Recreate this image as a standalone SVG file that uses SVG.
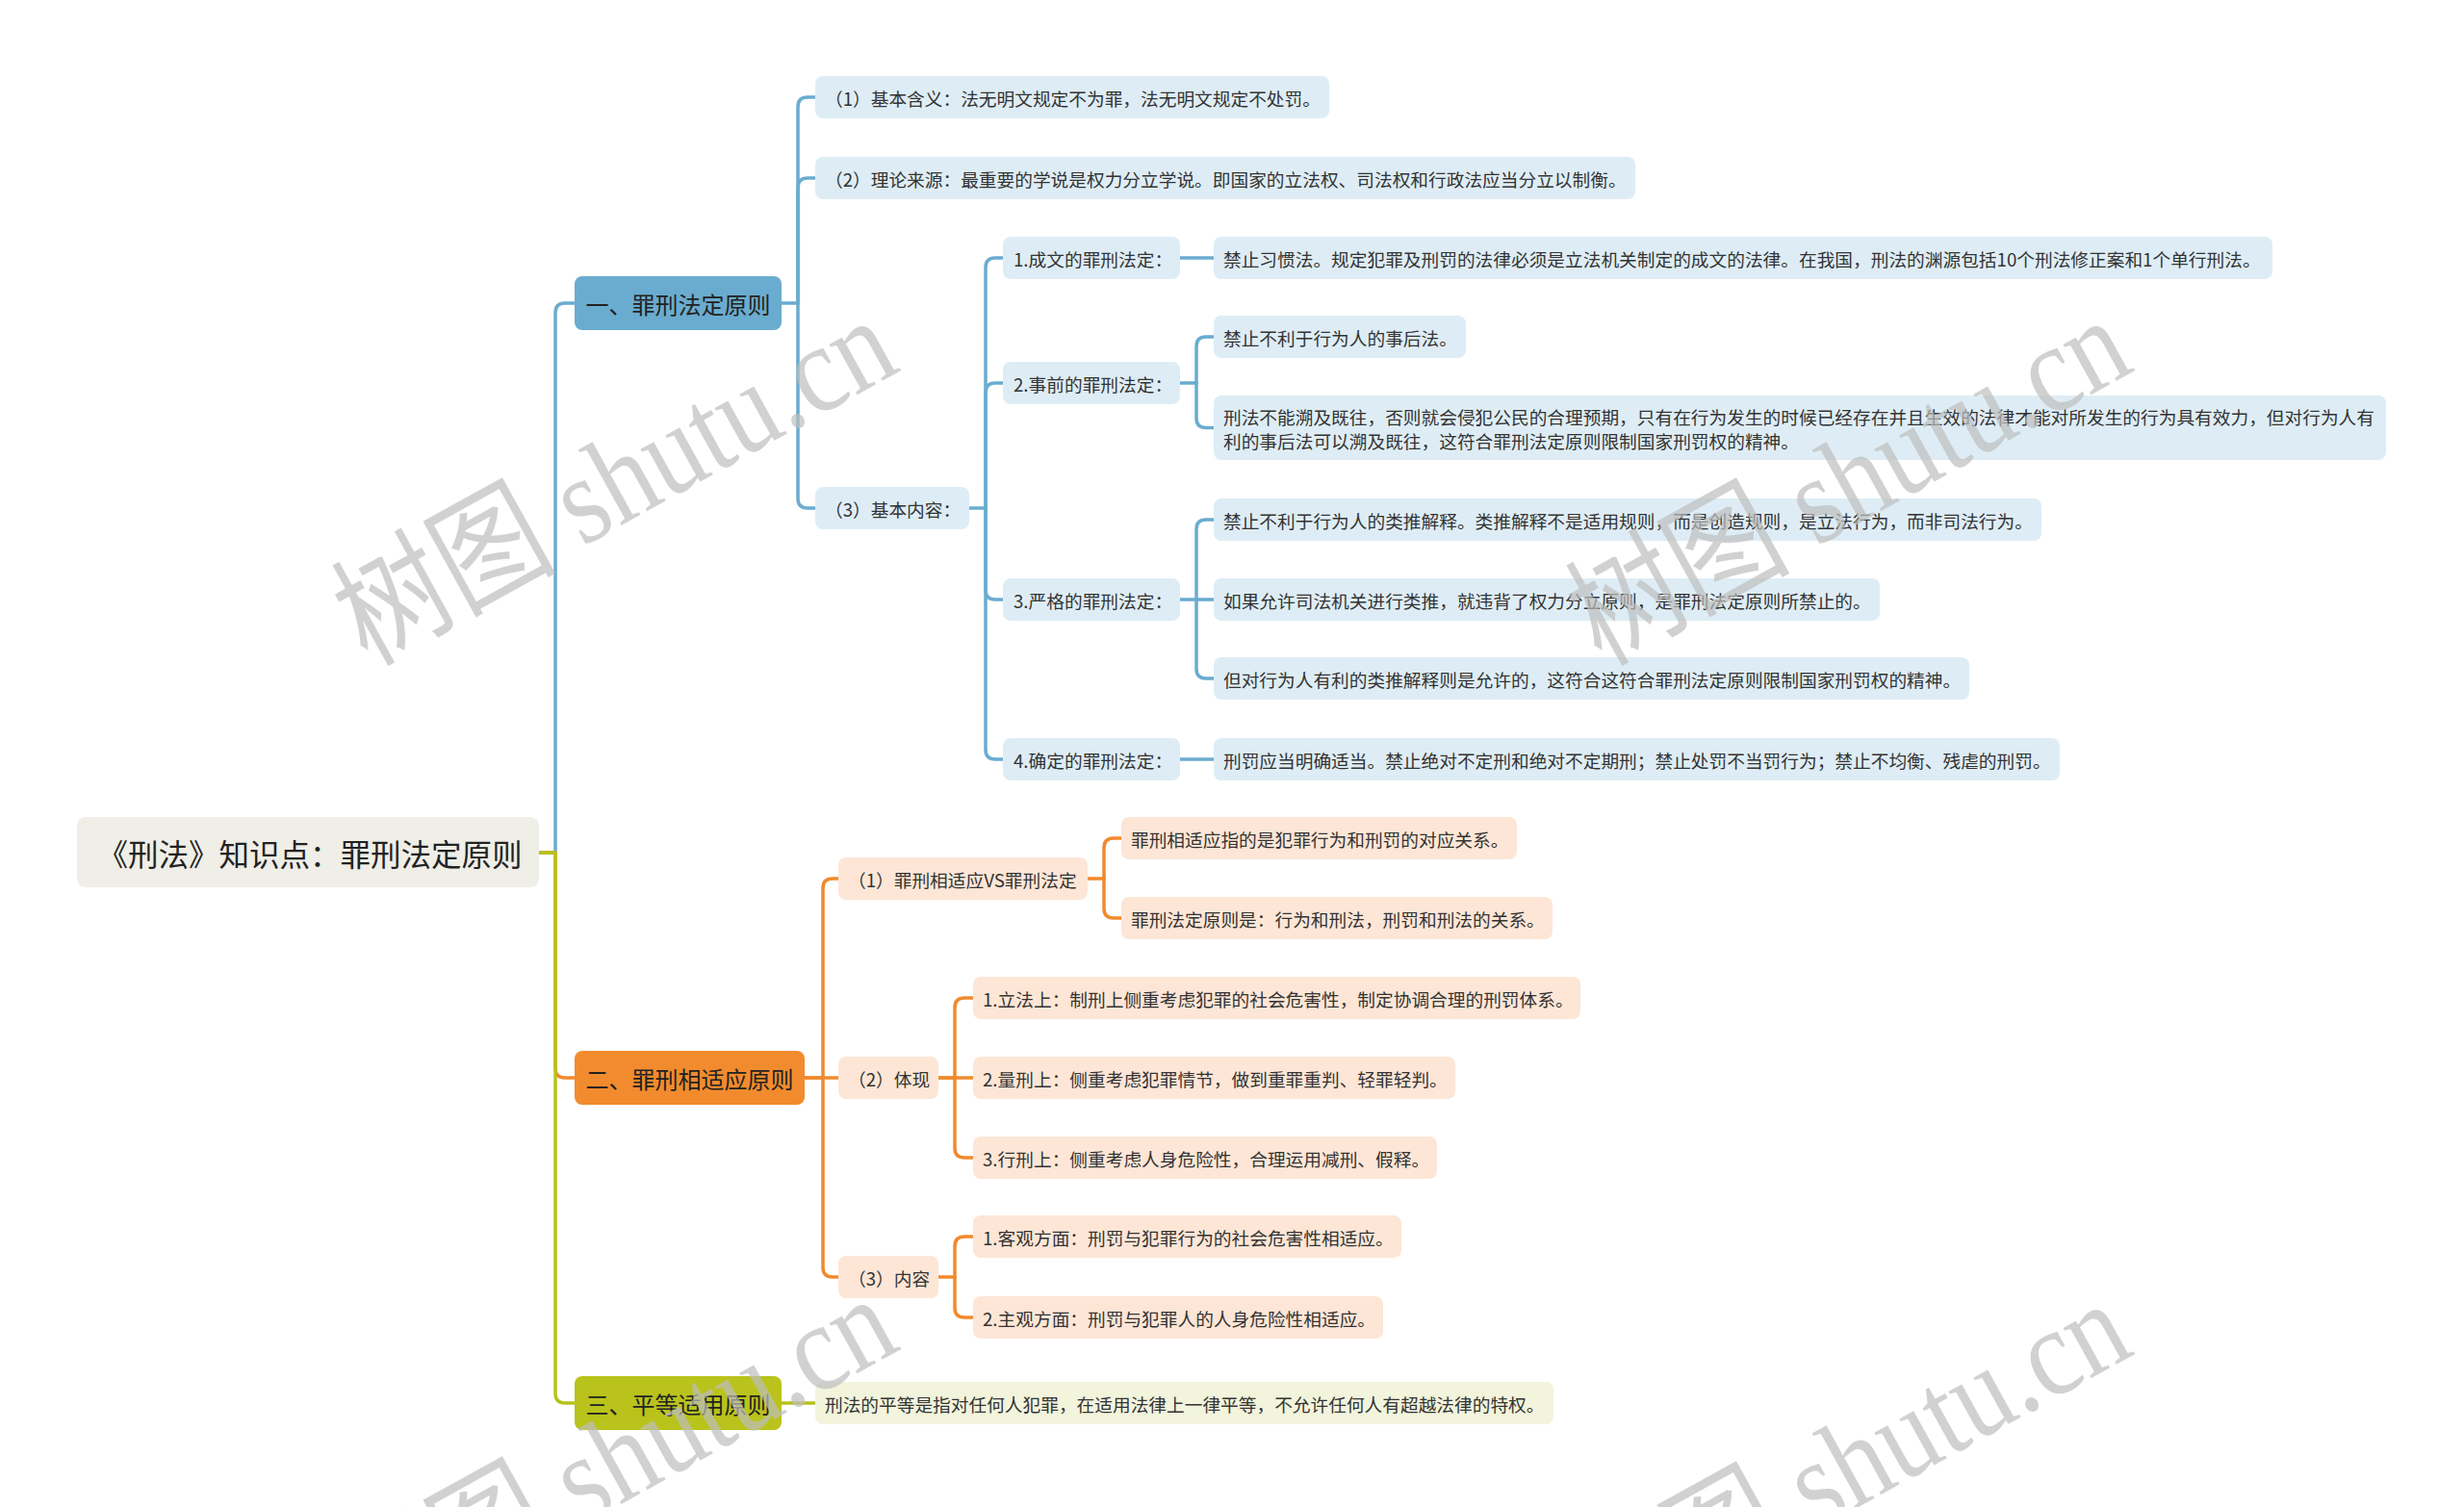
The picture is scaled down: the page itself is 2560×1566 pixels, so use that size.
<svg xmlns="http://www.w3.org/2000/svg" width="2560" height="1566" viewBox="0 0 2560 1566">
<style>
text{font-family:"Noto Sans CJK SC","Noto Sans CJK TC",sans-serif;dominant-baseline:central;fill:#333}
.s{font-size:18.7px}
.m{font-size:24px;fill:#222;text-anchor:middle}
.r{font-size:31.5px;fill:#222;text-anchor:middle}
.c{fill:none;stroke-width:3.5;stroke-linecap:round;stroke-linejoin:round}
.cb{stroke:#6aaccf}.co{stroke:#f08a2e}.cg{stroke:#b7c21c}
.nb{fill:#deedf5}.no{fill:#fde6d6}.ng{fill:#f2f4dc}
.wm{font-family:"Liberation Serif","Noto Sans CJK SC",serif;font-size:130px;fill:#bdbdbd;fill-opacity:0.7;text-anchor:middle;dominant-baseline:alphabetic}
</style>
<rect width="2560" height="1566" fill="#ffffff"/>

<g id="connectors">
  <!-- blue branch -->
  <path class="c cb" d="M560,886 H577 V325 Q577,315 587,315 H597"/>
  <path class="c cb" d="M812,315 H829 V111 Q829,101 839,101 H847"/>
  <path class="c cb" d="M829,315 V195 Q829,185 839,185 H847"/>
  <path class="c cb" d="M829,315 V518 Q829,528 839,528 H847"/>
  <path class="c cb" d="M1007,528 H1024 V278 Q1024,268 1034,268 H1042"/>
  <path class="c cb" d="M1024,528 V408 Q1024,398 1034,398 H1042"/>
  <path class="c cb" d="M1024,528 V613 Q1024,623 1034,623 H1042"/>
  <path class="c cb" d="M1024,528 V779 Q1024,789 1034,789 H1042"/>
  <path class="c cb" d="M1226,268 H1261"/>
  <path class="c cb" d="M1226,398 H1243 V360 Q1243,350 1253,350 H1261"/>
  <path class="c cb" d="M1243,398 V434.5 Q1243,444.5 1253,444.5 H1261"/>
  <path class="c cb" d="M1226,623 H1261"/>
  <path class="c cb" d="M1243,623 V550 Q1243,540 1253,540 H1261"/>
  <path class="c cb" d="M1243,623 V695 Q1243,705 1253,705 H1261"/>
  <path class="c cb" d="M1226,789 H1261"/>
  <!-- orange branch -->
  <path class="c co" d="M560,886 H577 V1110 Q577,1120 587,1120 H597"/>
  <path class="c co" d="M836,1120 H855 V923 Q855,913 865,913 H871"/>
  <path class="c co" d="M836,1120 H871"/>
  <path class="c co" d="M855,1120 V1317 Q855,1327 865,1327 H871"/>
  <path class="c co" d="M1130,913 H1147 V881 Q1147,871 1157,871 H1165"/>
  <path class="c co" d="M1147,913 V944 Q1147,954 1157,954 H1165"/>
  <path class="c co" d="M975,1120 H992 V1047 Q992,1037 1002,1037 H1011"/>
  <path class="c co" d="M975,1120 H1011"/>
  <path class="c co" d="M992,1120 V1193 Q992,1203 1002,1203 H1011"/>
  <path class="c co" d="M975,1327 H992 V1295 Q992,1285 1002,1285 H1011"/>
  <path class="c co" d="M992,1327 V1359 Q992,1369 1002,1369 H1011"/>
  <!-- green branch -->
  <path class="c cg" d="M560,886 H577 V1448 Q577,1458 587,1458 H597"/>
  <path class="c cg" d="M812,1458 H847"/>
</g>

<g id="root">
  <rect x="80" y="849" width="480" height="73" rx="9" fill="#efeee7"/>
  <text class="r" x="322" y="885.5">《刑法》知识点：罪刑法定原则</text>
</g>

<g id="n1">
  <rect x="597" y="287" width="215" height="56" rx="8" fill="#6aaccf"/>
  <text class="m" x="704.5" y="315">一、罪刑法定原则</text>
</g>
<g id="n1-1">
  <rect class="nb" x="847" y="79" width="534" height="44" rx="8"/>
  <text class="s" x="857" y="101">（1）基本含义：法无明文规定不为罪，法无明文规定不处罚。</text>
</g>
<g id="n1-2">
  <rect class="nb" x="847" y="163" width="852" height="44" rx="8"/>
  <text class="s" x="857" y="185">（2）理论来源：最重要的学说是权力分立学说。即国家的立法权、司法权和行政法应当分立以制衡。</text>
</g>
<g id="n1-3">
  <rect class="nb" x="847" y="506" width="160" height="44" rx="8"/>
  <text class="s" x="857" y="528">（3）基本内容：</text>
</g>
<g id="n1-3-1">
  <rect class="nb" x="1042" y="246" width="184" height="44" rx="8"/>
  <text class="s" x="1053" y="268">1.成文的罪刑法定：</text>
</g>
<g id="n1-3-1-1">
  <rect class="nb" x="1261" y="246" width="1100" height="44" rx="8"/>
  <text class="s" x="1271" y="268">禁止习惯法。规定犯罪及刑罚的法律必须是立法机关制定的成文的法律。在我国，刑法的渊源包括10个刑法修正案和1个单行刑法。</text>
</g>
<g id="n1-3-2">
  <rect class="nb" x="1042" y="376" width="184" height="44" rx="8"/>
  <text class="s" x="1053" y="398">2.事前的罪刑法定：</text>
</g>
<g id="n1-3-2-1">
  <rect class="nb" x="1261" y="328" width="262" height="44" rx="8"/>
  <text class="s" x="1271" y="350">禁止不利于行为人的事后法。</text>
</g>
<g id="n1-3-2-2">
  <rect class="nb" x="1261" y="411" width="1218" height="67" rx="8"/>
  <text class="s" x="1271" y="432">刑法不能溯及既往，否则就会侵犯公民的合理预期，只有在行为发生的时候已经存在并且生效的法律才能对所发生的行为具有效力，但对行为人有</text>
  <text class="s" x="1271" y="457">利的事后法可以溯及既往，这符合罪刑法定原则限制国家刑罚权的精神。</text>
</g>
<g id="n1-3-3">
  <rect class="nb" x="1042" y="601" width="184" height="44" rx="8"/>
  <text class="s" x="1053" y="623">3.严格的罪刑法定：</text>
</g>
<g id="n1-3-3-1">
  <rect class="nb" x="1261" y="518" width="860" height="44" rx="8"/>
  <text class="s" x="1271" y="540">禁止不利于行为人的类推解释。类推解释不是适用规则，而是创造规则，是立法行为，而非司法行为。</text>
</g>
<g id="n1-3-3-2">
  <rect class="nb" x="1261" y="601" width="692" height="44" rx="8"/>
  <text class="s" x="1271" y="623">如果允许司法机关进行类推，就违背了权力分立原则，是罪刑法定原则所禁止的。</text>
</g>
<g id="n1-3-3-3">
  <rect class="nb" x="1261" y="683" width="785" height="44" rx="8"/>
  <text class="s" x="1271" y="705">但对行为人有利的类推解释则是允许的，这符合这符合罪刑法定原则限制国家刑罚权的精神。</text>
</g>
<g id="n1-3-4">
  <rect class="nb" x="1042" y="767" width="184" height="44" rx="8"/>
  <text class="s" x="1053" y="789">4.确定的罪刑法定：</text>
</g>
<g id="n1-3-4-1">
  <rect class="nb" x="1261" y="767" width="879" height="44" rx="8"/>
  <text class="s" x="1271" y="789">刑罚应当明确适当。禁止绝对不定刑和绝对不定期刑；禁止处罚不当罚行为；禁止不均衡、残虐的刑罚。</text>
</g>

<g id="n2">
  <rect x="597" y="1092" width="239" height="56" rx="8" fill="#f28b2d"/>
  <text class="m" x="716.5" y="1120">二、罪刑相适应原则</text>
</g>
<g id="n2-1">
  <rect class="no" x="871" y="891" width="259" height="44" rx="8"/>
  <text class="s" x="881" y="913">（1）罪刑相适应VS罪刑法定</text>
</g>
<g id="n2-1-1">
  <rect class="no" x="1165" y="849" width="411" height="44" rx="8"/>
  <text class="s" x="1175" y="871">罪刑相适应指的是犯罪行为和刑罚的对应关系。</text>
</g>
<g id="n2-1-2">
  <rect class="no" x="1165" y="932" width="448" height="44" rx="8"/>
  <text class="s" x="1175" y="954">罪刑法定原则是：行为和刑法，刑罚和刑法的关系。</text>
</g>
<g id="n2-2">
  <rect class="no" x="871" y="1098" width="104" height="44" rx="8"/>
  <text class="s" x="881" y="1120">（2）体现</text>
</g>
<g id="n2-2-1">
  <rect class="no" x="1011" y="1015" width="631" height="44" rx="8"/>
  <text class="s" x="1021" y="1037">1.立法上：制刑上侧重考虑犯罪的社会危害性，制定协调合理的刑罚体系。</text>
</g>
<g id="n2-2-2">
  <rect class="no" x="1011" y="1098" width="501" height="44" rx="8"/>
  <text class="s" x="1021" y="1120">2.量刑上：侧重考虑犯罪情节，做到重罪重判、轻罪轻判。</text>
</g>
<g id="n2-2-3">
  <rect class="no" x="1011" y="1181" width="482" height="44" rx="8"/>
  <text class="s" x="1021" y="1203">3.行刑上：侧重考虑人身危险性，合理运用减刑、假释。</text>
</g>
<g id="n2-3">
  <rect class="no" x="871" y="1305" width="104" height="44" rx="8"/>
  <text class="s" x="881" y="1327">（3）内容</text>
</g>
<g id="n2-3-1">
  <rect class="no" x="1011" y="1263" width="445" height="44" rx="8"/>
  <text class="s" x="1021" y="1285">1.客观方面：刑罚与犯罪行为的社会危害性相适应。</text>
</g>
<g id="n2-3-2">
  <rect class="no" x="1011" y="1347" width="426" height="44" rx="8"/>
  <text class="s" x="1021" y="1369">2.主观方面：刑罚与犯罪人的人身危险性相适应。</text>
</g>

<g id="n3">
  <rect x="597" y="1430" width="215" height="56" rx="8" fill="#b9c31b"/>
  <text class="m" x="704.5" y="1458">三、平等适用原则</text>
</g>
<g id="n3-1">
  <rect class="ng" x="847" y="1436" width="767" height="44" rx="8"/>
  <text class="s" x="857" y="1458">刑法的平等是指对任何人犯罪，在适用法律上一律平等，不允许任何人有超越法律的特权。</text>
</g>

<g id="watermark">
  <text class="wm" transform="translate(660,538) rotate(-29)" textLength="635" lengthAdjust="spacingAndGlyphs">树图 shutu.cn</text>
  <text class="wm" transform="translate(1942,538) rotate(-29)" textLength="635" lengthAdjust="spacingAndGlyphs">树图 shutu.cn</text>
  <text class="wm" transform="translate(660,1555) rotate(-29)" textLength="635" lengthAdjust="spacingAndGlyphs">树图 shutu.cn</text>
  <text class="wm" transform="translate(1942,1560) rotate(-29)" textLength="635" lengthAdjust="spacingAndGlyphs">树图 shutu.cn</text>
</g>
</svg>
